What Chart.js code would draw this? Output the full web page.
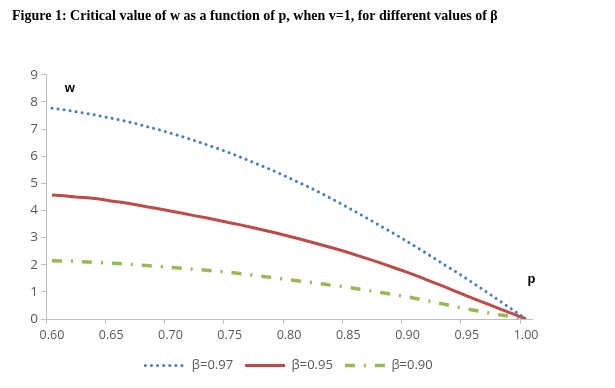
<!DOCTYPE html>
<html>
<head>
<meta charset="utf-8">
<script src="https://cdn.jsdelivr.net/npm/chart.js@4.4.1/dist/chart.umd.min.js"></script>
<style>
    html, body { margin: 0; padding: 0; background: #fff; }
    #wrap { width: 615px; height: 388px; }
</style>
</head>
<body>
<div id="wrap"><canvas id="wChart"></canvas></div>
<script>
// p 取值 0.60 - 1.00
const pValues = [
    0.60, 0.61, 0.62, 0.63, 0.64, 0.65, 0.66, 0.67, 0.68, 0.69,
    0.70, 0.71, 0.72, 0.73, 0.74, 0.75, 0.76, 0.77, 0.78, 0.79,
    0.80, 0.81, 0.82, 0.83, 0.84, 0.85, 0.86, 0.87, 0.88, 0.89,
    0.90, 0.91, 0.92, 0.93, 0.94, 0.95, 0.96, 0.97, 0.98, 0.99,
    1.00
];

// w 的临界值, β=0.97
const wBeta097 = [
    7.77, 7.71, 7.64, 7.57, 7.49, 7.40, 7.31, 7.21, 7.09, 6.98,
    6.85, 6.72, 6.58, 6.43, 6.28, 6.12, 5.95, 5.77, 5.59, 5.40,
    5.20, 5.00, 4.79, 4.57, 4.34, 4.10, 3.86, 3.61, 3.36, 3.11,
    2.85, 2.58, 2.31, 2.03, 1.76, 1.48, 1.19, 0.90, 0.60, 0.30,
    0.00
];

// β=0.95
const wBeta095 = [
    4.57, 4.54, 4.50, 4.47, 4.42, 4.35, 4.29, 4.22, 4.14, 4.06,
    3.98, 3.90, 3.81, 3.73, 3.64, 3.55, 3.46, 3.36, 3.26, 3.16,
    3.05, 2.94, 2.82, 2.70, 2.58, 2.45, 2.31, 2.17, 2.02, 1.87,
    1.72, 1.55, 1.38, 1.21, 1.03, 0.85, 0.68, 0.51, 0.34, 0.17,
    0.00
];

// β=0.90
const wBeta090 = [
    2.15, 2.14, 2.12, 2.10, 2.08, 2.06, 2.03, 2.00, 1.97, 1.94,
    1.90, 1.87, 1.83, 1.80, 1.76, 1.72, 1.67, 1.62, 1.56, 1.51,
    1.45, 1.39, 1.34, 1.28, 1.22, 1.16, 1.10, 1.03, 0.96, 0.89,
    0.82, 0.73, 0.64, 0.55, 0.46, 0.37, 0.29, 0.21, 0.14, 0.07,
    0.00
];

const seriesNames = ['β=0.97', 'β=0.95', 'β=0.90'];
const titleText = 'Figure 1: Critical value of w as a function of p, when v=1, for different values of β';

const axisGrey = '#BFBFBF';
const textGrey = '#595959';

// 坐标轴上的 "w" 和 "p" 标注
const axisLetters = {
    id: 'axisLetters',
    afterDatasetsDraw(chart) {
        const { ctx, scales: { x, y } } = chart;
        ctx.save();
        ctx.font = 'bold 13px "Liberation Sans", Arial, sans-serif';
        ctx.fillStyle = '#000';
        ctx.textAlign = 'center';
        ctx.textBaseline = 'middle';
        ctx.fillText('w', x.getPixelForValue(1.5), y.getPixelForValue(8.48));
        ctx.fillText('p', x.getPixelForValue(40.45), y.getPixelForValue(1.45));
        ctx.restore();
    }
};

const ctx = document.getElementById('wChart').getContext('2d');
const wChart = new Chart(ctx, {
    type: 'line',
    data: {
        labels: pValues.map(p => p.toFixed(2)),
        datasets: [{
            label: seriesNames[0],
            data: wBeta097,
            borderColor: '#4A7EBB',
            borderWidth: 3,
            borderDash: [0.1, 6],
            borderCapStyle: 'round',
            pointRadius: 0,
            tension: 0
        }, {
            label: seriesNames[1],
            data: wBeta095,
            borderColor: '#BE4B48',
            borderWidth: 3,
            pointRadius: 0,
            tension: 0
        }, {
            label: seriesNames[2],
            data: wBeta090,
            borderColor: '#98B954',
            borderWidth: 3.5,
            borderDash: [10, 9, 2, 9],
            pointRadius: 0,
            tension: 0
        }]
    },
    options: {
        responsive: true,
        maintainAspectRatio: false,
        animation: false,
        layout: {
            padding: { left: 12, right: 83, top: 6, bottom: 6 }
        },
        plugins: {
            title: {
                display: true,
                text: titleText,
                align: 'start',
                color: '#000',
                font: { family: '"Liberation Serif", serif', size: 14, weight: 'bold' },
                padding: { top: 2, bottom: 50 }
            },
            legend: {
                position: 'bottom',
                fullSize: false,
                labels: {
                    usePointStyle: true,
                    pointStyle: 'line',
                    pointStyleWidth: 40,
                    boxHeight: 12,
                    padding: 12,
                    color: textGrey,
                    font: { family: '"Open Sans", sans-serif', size: 13 },
                    // 图例线段沿用数据集的虚线样式
                    generateLabels(chart) {
                        const items = Chart.defaults.plugins.legend.labels.generateLabels(chart);
                        items.forEach(item => {
                            const ds = chart.data.datasets[item.datasetIndex];
                            item.lineDash = ds.borderDash || [];
                            item.lineCap = ds.borderCapStyle || 'butt';
                            item.lineWidth = ds.borderWidth;
                            item.strokeStyle = ds.borderColor;
                        });
                        return items;
                    }
                }
            },
            tooltip: { enabled: false }
        },
        scales: {
            x: {
                type: 'category',
                offset: true,
                grid: {
                    offset: true,
                    drawOnChartArea: false,
                    tickLength: 5,
                    color: (c) => (c.index % 5 === 0 ? axisGrey : 'rgba(0,0,0,0)')
                },
                border: { color: axisGrey },
                ticks: {
                    autoSkip: false,
                    maxRotation: 0,
                    padding: 4,
                    color: textGrey,
                    font: { family: '"Open Sans", sans-serif', size: 12.5 },
                    callback: function(val, i) {
                        return i % 5 === 0 ? this.getLabelForValue(val) : '';
                    }
                }
            },
            y: {
                min: 0,
                max: 9,
                grid: {
                    drawOnChartArea: false,
                    tickLength: 5,
                    color: axisGrey
                },
                border: { color: axisGrey },
                ticks: {
                    stepSize: 1,
                    padding: 3,
                    color: textGrey,
                    font: { family: '"Open Sans", sans-serif', size: 13.5 }
                },
                afterFit(scale) {
                    scale.width = 34;
                }
            }
        }
    },
    plugins: [axisLetters]
});
</script>
</body>
</html>
